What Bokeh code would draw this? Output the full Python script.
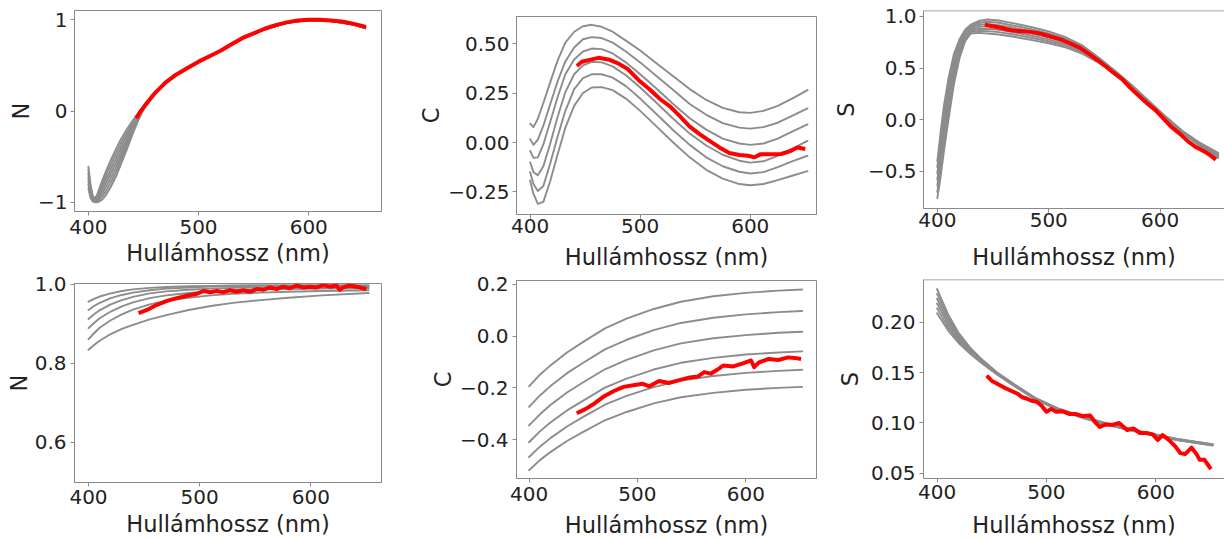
from bokeh.plotting import figure
from bokeh.layouts import row, column
from bokeh.models import FixedTicker, Span, Range1d
from bokeh.embed import file_html
from bokeh.resources import INLINE

# ---------------- data ----------------
x_ticks = [400, 500, 600]
x_tick_labels = ["400", "500", "600"]
x_label = "Hullámhossz (nm)"

# Panel 1 : N (top)
n1_head_x = [400, 402, 404, 406, 408, 410, 413, 416, 420, 425, 430, 435, 440, 445, 450, 455, 460]
n1_tail_x = [470, 480, 490, 500, 520, 540, 560, 580, 600, 620, 640, 652]
n1_tail_y = [0.31, 0.40, 0.47, 0.535, 0.66, 0.795, 0.895, 0.965, 0.995, 0.985, 0.95, 0.905]
n1_g1 = [-0.60, -0.80, -0.93, -0.955, -0.92, -0.85, -0.75, -0.66, -0.55, -0.42, -0.30, -0.20, -0.11, -0.03, 0.045, 0.12, 0.19]
n1_g2 = [-0.64, -0.825, -0.94, -0.962, -0.933, -0.873, -0.786, -0.703, -0.598, -0.47, -0.345, -0.237, -0.135, -0.043, 0.039, 0.117, 0.188]
n1_g3 = [-0.68, -0.85, -0.95, -0.97, -0.947, -0.897, -0.822, -0.747, -0.647, -0.52, -0.39, -0.273, -0.16, -0.057, 0.033, 0.113, 0.187]
n1_g4 = [-0.72, -0.885, -0.965, -0.98, -0.965, -0.925, -0.86, -0.79, -0.695, -0.57, -0.435, -0.31, -0.185, -0.07, 0.03, 0.11, 0.185]
n1_g5 = [-0.76, -0.90, -0.97, -0.987, -0.977, -0.95, -0.895, -0.833, -0.743, -0.62, -0.48, -0.347, -0.21, -0.083, 0.022, 0.107, 0.183]
n1_g6 = [-0.80, -0.925, -0.98, -0.993, -0.988, -0.97, -0.93, -0.877, -0.792, -0.67, -0.525, -0.383, -0.235, -0.097, 0.016, 0.103, 0.182]
n1_g7 = [-0.84, -0.95, -0.99, -1.0, -1.0, -0.99, -0.965, -0.92, -0.84, -0.72, -0.57, -0.42, -0.26, -0.11, 0.01, 0.10, 0.18]
n1_red_x = [443.5, 447, 452, 460, 470, 480, 490, 500, 510, 520, 530, 540, 550, 560, 570, 580, 590, 600, 610, 620, 630, 640, 652]
n1_red_y = [-0.08, -0.01, 0.07, 0.19, 0.31, 0.40, 0.47, 0.54, 0.60, 0.66, 0.73, 0.80, 0.85, 0.90, 0.94, 0.97, 0.99, 1.00, 1.00, 0.99, 0.98, 0.955, 0.92]
n1_yticks = [-1, 0, 1]
n1_ylabels = ["\u22121", "0", "1"]

# Panel 2 : C (top)
c1_x = [400, 403, 407, 412, 418, 425, 432, 440, 448, 456, 465, 475, 487, 500, 515, 530, 545, 560, 575, 590, 600, 612, 625, 638, 652]
c1_g1 = [0.095, 0.078, 0.120, 0.200, 0.300, 0.415, 0.505, 0.560, 0.588, 0.595, 0.585, 0.560, 0.515, 0.465, 0.400, 0.335, 0.270, 0.215, 0.175, 0.153, 0.150, 0.160, 0.185, 0.222, 0.265]
c1_g2 = [0.017, -0.012, 0.015, 0.085, 0.190, 0.310, 0.410, 0.480, 0.522, 0.533, 0.528, 0.505, 0.460, 0.405, 0.335, 0.265, 0.195, 0.140, 0.098, 0.075, 0.070, 0.078, 0.100, 0.135, 0.172]
c1_g3 = [-0.042, -0.078, -0.075, -0.010, 0.100, 0.230, 0.345, 0.420, 0.460, 0.475, 0.472, 0.450, 0.405, 0.345, 0.272, 0.195, 0.123, 0.065, 0.020, -0.005, -0.012, -0.005, 0.020, 0.055, 0.092]
c1_g4 = [-0.100, -0.150, -0.165, -0.120, -0.010, 0.130, 0.255, 0.345, 0.390, 0.408, 0.405, 0.385, 0.340, 0.278, 0.200, 0.120, 0.045, -0.015, -0.062, -0.092, -0.102, -0.095, -0.068, -0.032, 0.008]
c1_g5 = [-0.150, -0.210, -0.245, -0.220, -0.110, 0.030, 0.160, 0.270, 0.325, 0.345, 0.345, 0.328, 0.285, 0.222, 0.143, 0.062, -0.012, -0.075, -0.120, -0.148, -0.157, -0.150, -0.125, -0.095, -0.067]
c1_g6 = [-0.192, -0.260, -0.310, -0.300, -0.200, -0.060, 0.075, 0.185, 0.250, 0.278, 0.280, 0.265, 0.222, 0.160, 0.080, 0.000, -0.075, -0.138, -0.183, -0.210, -0.216, -0.210, -0.190, -0.168, -0.145]
c1_red_x = [442.5, 447, 456, 462, 471, 480, 489, 500, 509, 518, 527, 536, 545, 554, 563, 572, 581, 590, 598, 604, 609, 619, 628, 637, 643, 650]
c1_red_y = [0.387, 0.408, 0.42, 0.428, 0.42, 0.40, 0.37, 0.308, 0.267, 0.22, 0.183, 0.133, 0.08, 0.042, 0.008, -0.025, -0.053, -0.063, -0.067, -0.075, -0.06, -0.06, -0.058, -0.042, -0.025, -0.033]
c1_yticks = [-0.25, 0.0, 0.25, 0.5]
c1_ylabels = ["\u22120.25", "0.00", "0.25", "0.50"]

# Panel 3 : S (top)
s1_x = [400, 403, 406, 410, 415, 420, 425, 430, 437, 445, 455, 470, 485, 500, 515, 530, 545, 560, 575, 590, 605, 620, 635, 652]
s1_g1 = [-0.40, -0.12, 0.14, 0.40, 0.64, 0.78, 0.87, 0.92, 0.955, 0.97, 0.96, 0.93, 0.895, 0.855, 0.80, 0.72, 0.60, 0.47, 0.33, 0.18, 0.03, -0.11, -0.22, -0.32]
s1_g2 = [-0.46, -0.192, 0.067, 0.333, 0.592, 0.75, 0.852, 0.906, 0.936, 0.948, 0.938, 0.908, 0.874, 0.836, 0.783, 0.707, 0.592, 0.465, 0.327, 0.177, 0.027, -0.113, -0.225, -0.328]
s1_g3 = [-0.52, -0.263, -0.007, 0.267, 0.543, 0.72, 0.833, 0.892, 0.917, 0.925, 0.915, 0.887, 0.853, 0.817, 0.767, 0.693, 0.583, 0.46, 0.323, 0.173, 0.023, -0.117, -0.23, -0.337]
s1_g4 = [-0.58, -0.335, -0.08, 0.20, 0.495, 0.69, 0.815, 0.878, 0.898, 0.903, 0.893, 0.865, 0.833, 0.798, 0.75, 0.68, 0.575, 0.455, 0.32, 0.17, 0.02, -0.12, -0.235, -0.345]
s1_g5 = [-0.64, -0.407, -0.153, 0.133, 0.447, 0.66, 0.797, 0.863, 0.878, 0.88, 0.87, 0.843, 0.812, 0.778, 0.733, 0.667, 0.567, 0.45, 0.317, 0.167, 0.017, -0.123, -0.24, -0.353]
s1_g6 = [-0.70, -0.478, -0.227, 0.067, 0.398, 0.63, 0.778, 0.849, 0.859, 0.857, 0.848, 0.822, 0.791, 0.759, 0.717, 0.653, 0.558, 0.445, 0.313, 0.163, 0.013, -0.127, -0.245, -0.362]
s1_g7 = [-0.76, -0.55, -0.30, 0.00, 0.35, 0.60, 0.76, 0.835, 0.84, 0.835, 0.825, 0.80, 0.77, 0.74, 0.70, 0.64, 0.55, 0.44, 0.31, 0.16, 0.01, -0.13, -0.25, -0.37]
s1_red_x = [442.6, 450, 457, 463, 470, 477, 484, 492, 500, 510, 519, 528, 537, 544, 551, 558, 566, 573, 581, 588, 596, 603, 610, 618, 625, 632, 640, 645, 650]
s1_red_y = [0.92, 0.905, 0.89, 0.873, 0.86, 0.857, 0.85, 0.835, 0.81, 0.78, 0.74, 0.695, 0.63, 0.575, 0.517, 0.455, 0.39, 0.31, 0.23, 0.16, 0.09, 0.01, -0.07, -0.14, -0.21, -0.265, -0.31, -0.345, -0.387]
s1_yticks = [-0.5, 0.0, 0.5, 1.0]
s1_ylabels = ["\u22120.5", "0.0", "0.5", "1.0"]

# Panel 4 : N (bottom)
n2_x = [400, 405, 410, 420, 430, 440, 455, 470, 490, 510, 530, 555, 580, 610, 652]
n2_g1 = [0.956, 0.963, 0.969, 0.977, 0.983, 0.987, 0.991, 0.993, 0.995, 0.996, 0.997, 0.998, 0.998, 0.998, 0.998]
n2_g2 = [0.935, 0.945, 0.953, 0.965, 0.973, 0.979, 0.985, 0.989, 0.992, 0.994, 0.995, 0.996, 0.996, 0.996, 0.996]
n2_g3 = [0.912, 0.924, 0.934, 0.949, 0.960, 0.968, 0.977, 0.982, 0.986, 0.989, 0.991, 0.992, 0.993, 0.993, 0.993]
n2_g4 = [0.889, 0.902, 0.914, 0.931, 0.944, 0.954, 0.965, 0.972, 0.978, 0.982, 0.985, 0.987, 0.988, 0.989, 0.990]
n2_g5 = [0.861, 0.876, 0.890, 0.909, 0.924, 0.936, 0.949, 0.958, 0.966, 0.972, 0.976, 0.979, 0.981, 0.983, 0.985]
n2_g6 = [0.834, 0.846, 0.857, 0.874, 0.887, 0.897, 0.911, 0.922, 0.935, 0.945, 0.953, 0.960, 0.966, 0.972, 0.978]
n2_red_x = [445, 452.6, 461.6, 470.6, 479.5, 488.5, 497.5, 503.4, 509.4, 515.4, 521.4, 527.4, 533.3, 539.3, 545.3, 551.3, 557.2, 563.2, 569.2, 575.2, 581.2, 587.2, 593.1, 599.1, 605.1, 611.1, 617.1, 623, 626, 629, 635, 641, 647, 650]
n2_red_y = [0.927, 0.935, 0.948, 0.958, 0.965, 0.971, 0.976, 0.983, 0.98, 0.983, 0.98, 0.985, 0.981, 0.985, 0.981, 0.988, 0.986, 0.992, 0.988, 0.994, 0.99, 0.997, 0.992, 0.994, 0.992, 0.998, 0.994, 0.997, 0.986, 0.992, 0.997, 0.994, 0.99, 0.988]
n2_yticks = [0.6, 0.8, 1.0]
n2_ylabels = ["0.6", "0.8", "1.0"]

# Panel 5 : C (bottom)
c2_x = [400, 410, 420, 435, 450, 470, 490, 515, 540, 570, 600, 630, 652]
c2_g1 = [-0.194, -0.149, -0.112, -0.063, -0.022, 0.030, 0.068, 0.105, 0.133, 0.154, 0.167, 0.176, 0.180]
c2_g2 = [-0.273, -0.229, -0.192, -0.143, -0.103, -0.051, -0.014, 0.023, 0.051, 0.071, 0.084, 0.093, 0.097]
c2_g3 = [-0.345, -0.302, -0.265, -0.218, -0.178, -0.128, -0.092, -0.055, -0.028, -0.008, 0.004, 0.013, 0.017]
c2_g4 = [-0.410, -0.368, -0.333, -0.287, -0.249, -0.199, -0.164, -0.129, -0.103, -0.084, -0.071, -0.063, -0.059]
c2_g5 = [-0.467, -0.427, -0.393, -0.349, -0.312, -0.265, -0.231, -0.197, -0.172, -0.154, -0.142, -0.134, -0.130]
c2_g6 = [-0.518, -0.479, -0.447, -0.405, -0.370, -0.325, -0.293, -0.260, -0.236, -0.219, -0.207, -0.200, -0.196]
c2_red_x = [444, 451.5, 460.4, 469.3, 478.3, 487.2, 496.1, 505, 511, 520, 528.9, 537.8, 546.7, 555.7, 561.6, 567.6, 573.5, 579.5, 588.4, 597.3, 604.8, 607.7, 612.2, 621.1, 630, 639, 645, 651]
c2_red_y = [-0.298, -0.283, -0.26, -0.232, -0.212, -0.196, -0.19, -0.184, -0.194, -0.173, -0.181, -0.171, -0.161, -0.156, -0.139, -0.145, -0.13, -0.113, -0.117, -0.105, -0.094, -0.12, -0.101, -0.088, -0.092, -0.082, -0.084, -0.088]
c2_yticks = [-0.4, -0.2, 0.0, 0.2]
c2_ylabels = ["\u22120.4", "\u22120.2", "0.0", "0.2"]

# Panel 6 : S (bottom)
s2_x = [400, 410, 420, 430, 440, 455, 470, 490, 510, 535, 560, 590, 620, 652]
s2_g1 = [0.233, 0.208, 0.189, 0.175, 0.164, 0.1502, 0.1389, 0.1248, 0.1147, 0.1057, 0.0982, 0.0907, 0.0842, 0.0789]
s2_g2 = [0.2282, 0.2048, 0.187, 0.1738, 0.1632, 0.1497, 0.1385, 0.1245, 0.1144, 0.1054, 0.0979, 0.0904, 0.0839, 0.0786]
s2_g3 = [0.2234, 0.2016, 0.185, 0.1726, 0.1624, 0.1492, 0.1382, 0.1242, 0.1141, 0.1051, 0.0976, 0.0901, 0.0836, 0.0783]
s2_g4 = [0.2186, 0.1984, 0.183, 0.1714, 0.1616, 0.1488, 0.1378, 0.1238, 0.1139, 0.1049, 0.0974, 0.0899, 0.0834, 0.0781]
s2_g5 = [0.2138, 0.1952, 0.181, 0.1702, 0.1608, 0.1483, 0.1375, 0.1235, 0.1136, 0.1046, 0.0971, 0.0896, 0.0831, 0.0778]
s2_g6 = [0.209, 0.192, 0.179, 0.169, 0.160, 0.1478, 0.1371, 0.1232, 0.1133, 0.1043, 0.0968, 0.0893, 0.0828, 0.0775]
s2_red_x = [445.4, 449.9, 455.8, 461.7, 467.6, 473.5, 478, 482.3, 486.7, 491.1, 495.6, 500, 504.4, 508.9, 514.8, 520.7, 526.6, 532.5, 539.9, 544.3, 548.7, 554.6, 560.5, 566.4, 573.8, 579.6, 585.5, 591.4, 597.3, 601.7, 606.2, 612.1, 618, 622.4, 626.8, 632.7, 637.2, 640.1, 644.5, 650.4]
s2_red_y = [0.147, 0.142, 0.1385, 0.135, 0.132, 0.129, 0.1255, 0.124, 0.122, 0.121, 0.117, 0.111, 0.114, 0.111, 0.1115, 0.109, 0.109, 0.107, 0.1075, 0.101, 0.096, 0.0985, 0.098, 0.1, 0.093, 0.0945, 0.09, 0.09, 0.0886, 0.083, 0.088, 0.083, 0.0765, 0.07, 0.069, 0.0755, 0.069, 0.0634, 0.0634, 0.054]
s2_yticks = [0.05, 0.10, 0.15, 0.20]
s2_ylabels = ["0.05", "0.10", "0.15", "0.20"]

# ---------------- style ----------------
FONT = "DejaVu Sans"
TEXT = "#222222"
FRAME = "#8a8a8a"
GRAY = "#8c8c8c"
RED = "#ff0000"
RW = 4


def panel(width, height, borders, xr, yr, yticks, ylabels, ylabel,
          x_std=(3, 3), y_std=(3, 1), open_right=False):
    left, right, top, bottom = borders
    p = figure(width=width, height=height,
               x_range=Range1d(*xr), y_range=Range1d(*yr),
               output_backend="svg", toolbar_location=None,
               min_border_left=left, min_border_right=right,
               min_border_top=top, min_border_bottom=bottom)
    p.grid.visible = False
    p.background_fill_color = "white"
    p.border_fill_color = "white"
    if open_right:
        p.outline_line_color = None
        p.add_layout(Span(location=yr[1], dimension="width", line_color=FRAME, line_width=1.5))
    else:
        p.outline_line_color = FRAME
        p.outline_line_width = 1
    for ax in (p.xaxis[0], p.yaxis[0]):
        ax.axis_line_color = FRAME
        ax.major_tick_line_color = FRAME
        ax.major_tick_out = 4
        ax.major_tick_in = 0
        ax.minor_tick_line_color = None
        ax.major_label_text_font = FONT
        ax.major_label_text_font_size = "20px"
        ax.major_label_text_color = TEXT
        ax.axis_label_text_font = FONT
        ax.axis_label_text_font_size = "22.5px"
        ax.axis_label_text_font_style = "normal"
        ax.axis_label_text_color = TEXT
    p.xaxis.ticker = FixedTicker(ticks=x_ticks)
    p.xaxis.major_label_overrides = dict(zip(x_ticks, x_tick_labels))
    p.xaxis.axis_label = x_label
    p.xaxis.major_label_standoff = x_std[0]
    p.xaxis.axis_label_standoff = x_std[1]
    p.yaxis.ticker = FixedTicker(ticks=yticks)
    p.yaxis.major_label_overrides = dict(zip(yticks, ylabels))
    p.yaxis.axis_label = ylabel
    p.yaxis.major_label_standoff = y_std[0]
    p.yaxis.axis_label_standoff = y_std[1]
    return p


def grays(p, xs, curves, width=1.9):
    for ys in curves:
        p.line(xs, ys, line_color=GRAY, line_width=width, line_join="round", line_cap="round")


# Column 1 (x 0 -> 415)
p1 = panel(415, 272, (69, 34, 10, 61), (387.5, 666.0), (-1.1, 1.1), n1_yticks, n1_ylabels, "N",
           x_std=(4, 3), y_std=(3, 1))
for g in (n1_g1, n1_g2, n1_g3, n1_g4, n1_g5, n1_g6, n1_g7):
    p1.line(n1_head_x + n1_tail_x, g + n1_tail_y, line_color=GRAY, line_width=1.9, line_join="round")
p1.line(n1_red_x, n1_red_y, line_color=RED, line_width=RW, line_join="round")

p4 = panel(415, 268, (74, 33, 11, 58), (387.4, 663.6), (0.498, 1.002), n2_yticks, n2_ylabels, "N",
           x_std=(3, 4), y_std=(4, 0))
grays(p4, n2_x, (n2_g1, n2_g2, n2_g3, n2_g4, n2_g5, n2_g6))
p4.line(n2_red_x, n2_red_y, line_color=RED, line_width=RW, line_join="round")

# Column 2 (x 415 -> 829)
p2 = panel(414, 272, (96, 10, 16, 56), (387.6, 660.2), (-0.364, 0.637), c1_yticks, c1_ylabels, "C",
           x_std=(0, 8), y_std=(3, 1))
grays(p2, c1_x, (c1_g1, c1_g2, c1_g3, c1_g4, c1_g5, c1_g6))
p2.line(c1_red_x, c1_red_y, line_color=RED, line_width=RW, line_join="round")

p5 = panel(414, 268, (91, 13, 8, 60), (388.4, 665.2), (-0.55, 0.215), c2_yticks, c2_ylabels, "C",
           x_std=(4, 8), y_std=(4, 1))
grays(p5, c2_x, (c2_g1, c2_g2, c2_g3, c2_g4, c2_g5, c2_g6))
p5.line(c2_red_x, c2_red_y, line_color=RED, line_width=RW, line_join="round")

# Column 3 (x 829 -> 1224)
p3 = panel(395, 272, (89, 0, 10, 61), (387.6, 657.7), (-0.86, 1.057), s1_yticks, s1_ylabels, "S",
           x_std=(0, 14), y_std=(3, 6), open_right=True)
grays(p3, s1_x, (s1_g1, s1_g2, s1_g3, s1_g4, s1_g5, s1_g6, s1_g7))
p3.line(s1_red_x, s1_red_y, line_color=RED, line_width=RW, line_join="round")

p6 = panel(395, 268, (84, 0, 7, 59), (387.6, 662.8), (0.0448, 0.2425), s2_yticks, s2_ylabels, "S",
           x_std=(2, 10), y_std=(4, 5), open_right=True)
grays(p6, s2_x, (s2_g1, s2_g2, s2_g3, s2_g4, s2_g5, s2_g6))
p6.line(s2_red_x, s2_red_y, line_color=RED, line_width=RW, line_join="round")

layout = row(column(p1, p4), column(p2, p5), column(p3, p6))

open("out.html", "w").write(file_html(layout, INLINE))
